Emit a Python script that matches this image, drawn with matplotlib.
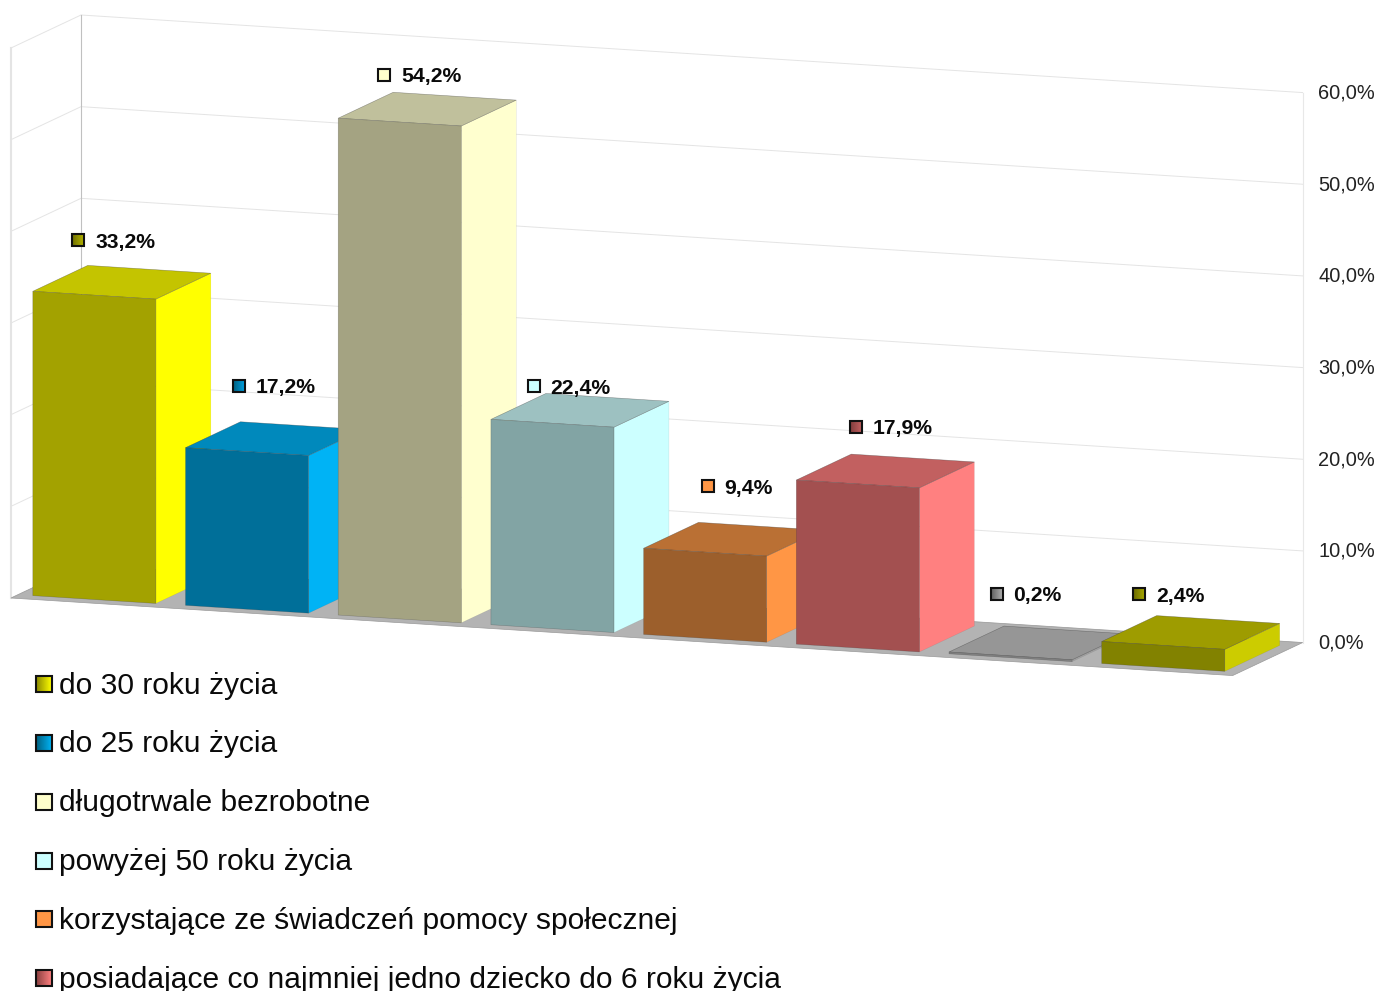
import numpy as np
import matplotlib
matplotlib.use("Agg")
import matplotlib.pyplot as plt
from matplotlib.colors import LinearSegmentedColormap
from matplotlib.patches import Polygon, Rectangle

plt.rcParams['font.family'] = ['Liberation Sans', 'DejaVu Sans']

# ---- data ----
values = [33.2, 17.2, 54.2, 22.4, 9.4, 17.9, 0.2, 2.4]
value_labels = ["33,2%", "17,2%", "54,2%", "22,4%", "9,4%", "17,9%", "0,2%", "2,4%"]
legend_names = ["do 30 roku życia", "do 25 roku życia", "długotrwale bezrobotne",
                "powyżej 50 roku życia", "korzystające ze świadczeń pomocy społecznej",
                "posiadające co najmniej jedno dziecko do 6 roku życia"]
axis_ticks = [0, 10, 20, 30, 40, 50, 60]
tick_labels = ["0,0%", "10,0%", "20,0%", "30,0%", "40,0%", "50,0%", "60,0%"]

# ---- styles ----
front_colors = ["#A3A200", "#006F99", "#A4A382", "#82A4A4", "#9C5F2C", "#A35050", "#808080", "#828200"]
side_colors = ["#FFFF00", "#00B3F5", "#FFFFCF", "#CCFFFF", "#FF9645", "#FF8080", "#A0A0A0", "#CCCC00"]
top_colors = ["#C4C400", "#0089BC", "#C0C09C", "#9DC1C1", "#BA7034", "#C26060", "#969696", "#9E9C00"]
marker_from = ["#6F6F00", "#006080", "#FFFFCC", "#CCFFFF", "#FF9645", "#803C3C", "#606060", "#6A6A00"]
marker_to = ["#B4B400", "#00A0E0", "#FFFFCC", "#CCFFFF", "#FF9645", "#C26060", "#B0B0B0", "#A8A800"]
legend_from = ["#8A8800", "#006080", "#FFFFCC", "#CCFFFF", "#FF9645", "#8A4040"]
legend_to = ["#FFFF00", "#00B3F5", "#FFFFCC", "#CCFFFF", "#FF9645", "#FF8080"]
label_dx = [-44, -36, -43, -46, -25, -29, -41, -52]
label_dy = [-42, -53, -34, -24, -53, -44, -49, -38]
label_gap = [17.5, 17.5, 17.5, 16.5, 17, 16.5, 16.5, 17.5]

# ---- projection of the 3D box onto the figure ----
X0, Y0 = 11.0, 598.0
UNIT_U = 152.7
SLOPE = 0.0635
DEPTH_X, DEPTH_Y = 70.0, -33.0
UNIT_V = 550.0 / 60.0
D0, D1 = 0.10, 0.885
BAR_W = 0.806


def proj(u, v, d):
    return (X0 + u * UNIT_U + d * DEPTH_X,
            Y0 + u * UNIT_U * SLOPE + d * DEPTH_Y - v * UNIT_V)


fig = plt.figure(figsize=(13.81, 9.91), dpi=100)
ax = fig.add_axes([0, 0, 1, 1])
ax.axis("off")


def poly(points, fc, ec="none", lw=0.0, z=1):
    ax.add_patch(Polygon(points, closed=True, facecolor=fc, edgecolor=ec, linewidth=lw, zorder=z))


def swatch(cx, cy, size, c_from, c_to, z=6):
    cmap = LinearSegmentedColormap.from_list("s", [c_from, c_to])
    h = size / 2
    ax.imshow(np.linspace(0, 1, 32).reshape(1, -1), cmap=cmap, aspect="auto",
              extent=(cx - h, cx + h, cy + h, cy - h), zorder=z, interpolation="bilinear")
    ax.add_patch(Rectangle((cx - h, cy - h), size, size, fill=False, edgecolor="#111111",
                           linewidth=1.5, zorder=z + 0.1))


# floor
poly([proj(0, 0, 0), proj(8, 0, 0), proj(8, 0, 1), proj(0, 0, 1)], "#B3B3B3", "#9A9A9A", 0.5, z=1)

# walls and grid
for t in axis_ticks:
    ax.plot(*zip(proj(0, t, 0), proj(0, t, 1), proj(8, t, 1)), color="#E4E4E4", lw=0.7, zorder=0.5)
ax.plot(*zip(proj(0, 0, 1), proj(0, 60, 1)), color="#C0C0C0", lw=0.8, zorder=0.6)
ax.plot(*zip(proj(0, 0, 0), proj(0, 60, 0)), color="#E4E4E4", lw=1.5, zorder=0.6)
ax.plot(*zip(proj(8, 0, 1), proj(8, 60, 1)), color="#E8E8E8", lw=0.8, zorder=0.6)

# bars
for i, v in enumerate(values):
    ul = i + (1 - BAR_W) / 2
    ur = ul + BAR_W
    z = 2 + i * 0.1
    fl0, fr0 = proj(ul, 0, D0), proj(ur, 0, D0)
    fl1, fr1 = proj(ul, v, D0), proj(ur, v, D0)
    bl1, br1 = proj(ul, v, D1), proj(ur, v, D1)
    br0 = proj(ur, 0, D1)
    poly([fr0, br0, br1, fr1], side_colors[i], "#55555533", 0.3, z)
    poly([fl1, fr1, br1, bl1], top_colors[i], "#33333377", 0.4, z)
    poly([fl0, fr0, fr1, fl1], front_colors[i], "#33333355", 0.4, z)

    cx = (fl1[0] + br1[0]) / 2
    cy = (fl1[1] + br1[1]) / 2
    mx, my = cx + label_dx[i], cy + label_dy[i]
    swatch(mx, my, 12, marker_from[i], marker_to[i])
    ax.text(mx + label_gap[i], my + 1.8, value_labels[i], fontsize=15.2, fontweight="bold",
            color="#0A0A0A", ha="left", va="center", zorder=7)

# value axis labels
for t, lab in zip(axis_ticks, tick_labels):
    x, y = proj(8, t, 1)
    ax.text(x + 15.5, y + 0.5, lab, fontsize=14.4, color="#222222", ha="left", va="center", zorder=7)

# legend
for row, name in enumerate(legend_names):
    y = 684 + row * 58.85
    swatch(44, y, 16, legend_from[row], legend_to[row], z=6)
    ax.text(59, y + 9.5, name, fontsize=21.62, color="#0A0A0A", ha="left", va="baseline", zorder=7)

ax.set_xlim(0, 1381)
ax.set_ylim(991, 0)
fig.savefig("out.png", dpi=100, facecolor="white")
